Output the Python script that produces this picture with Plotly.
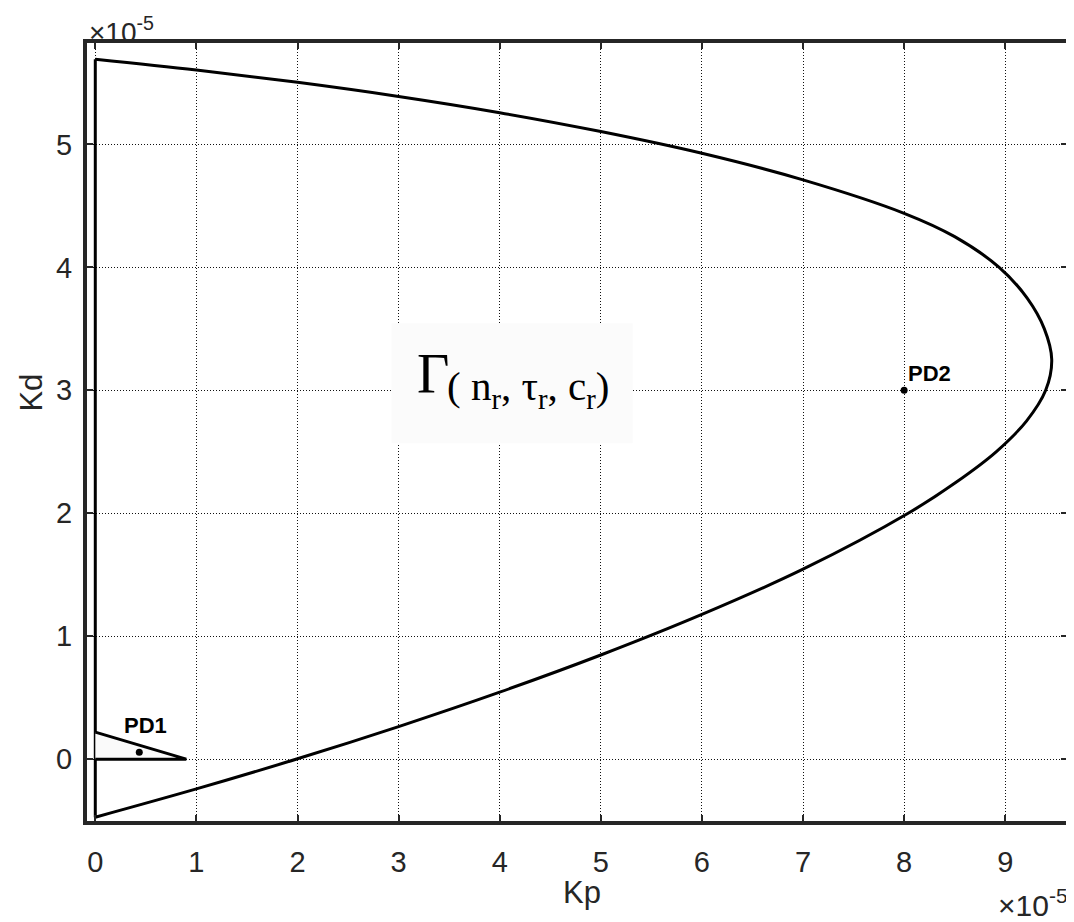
import plotly.graph_objects as go

# All Kp / Kd values are in units of 1e-5 (axis multiplier shown as "×10^-5")
# Boundary of the stabilising region: upper branch, tip, lower branch
kp_boundary = [0, 1, 2, 3, 4, 5, 6, 7, 8, 8.5, 8.94, 9.217, 9.387, 9.46,
               9.40, 9.21, 8.91, 8.51, 8.04, 7, 6, 5, 4, 3, 2, 1, 0]
kd_boundary = [5.693, 5.605, 5.505, 5.390, 5.258, 5.105, 4.928, 4.712, 4.440, 4.250, 4.0, 3.75, 3.5, 3.25,
               3.0, 2.75, 2.5, 2.25, 2.0, 1.545, 1.177, 0.847, 0.545, 0.265, 0.003, -0.242, -0.472]

kp_left_edge = [0, 0]
kd_left_edge = [-0.472, 5.693]

kp_triangle = [0, 0.9, 0]
kd_triangle = [0.22, 0, 0]

point_names = ["PD1", "PD2"]
point_kp = [0.435, 8.0]
point_kd = [0.057, 3.0]

x_ticks = [0, 1, 2, 3, 4, 5, 6, 7, 8, 9]
y_ticks = [0, 1, 2, 3, 4, 5]

INK = "#262626"
FONT = "Liberation Sans, Arial, sans-serif"
SERIF = "Liberation Serif, serif"

fig = go.Figure()

fig.add_trace(go.Scatter(
    x=kp_boundary, y=kd_boundary,
    mode="lines", line=dict(color="black", width=3, shape="spline", smoothing=1.0),
    hoverinfo="skip", showlegend=False))
fig.add_trace(go.Scatter(
    x=kp_left_edge, y=kd_left_edge, mode="lines",
    line=dict(color="black", width=3), showlegend=False, hoverinfo="skip"))
fig.add_trace(go.Scatter(
    x=kp_triangle, y=kd_triangle, mode="lines", fill="toself", fillcolor="#fafafa",
    line=dict(color="black", width=3), showlegend=False, hoverinfo="skip"))
fig.add_trace(go.Scatter(
    x=point_kp, y=point_kd, mode="markers",
    marker=dict(color="black", size=7), showlegend=False))

# point labels
fig.add_annotation(x=point_kp[0], y=point_kd[0], text="<b>" + point_names[0] + "</b>",
                   showarrow=False, xanchor="center", yanchor="middle",
                   xshift=6, yshift=27, font=dict(family=FONT, size=22, color="black"))
fig.add_annotation(x=point_kp[1], y=point_kd[1], text="<b>" + point_names[1] + "</b>",
                   showarrow=False, xanchor="left", yanchor="middle",
                   xshift=2, yshift=17, font=dict(family=FONT, size=22, color="black"))

# Gamma region label with light background box
fig.add_shape(type="rect", xref="x", yref="y", x0=2.93, x1=5.315, y0=2.569, y1=3.545,
              fillcolor="#fbfbfb", line=dict(width=0), layer="above")
fig.add_annotation(x=3.167, y=3.135, text="Γ", showarrow=False, xanchor="left", yanchor="middle",
                   font=dict(family=SERIF, size=56, color="black"))
fig.add_annotation(x=3.46, y=3.01,
                   text="( n<sub>r</sub>, τ<sub>r</sub>, c<sub>r</sub>)",
                   showarrow=False, xanchor="left", yanchor="middle",
                   font=dict(family=SERIF, size=41, color="black"))

# axis labels and exponent multipliers
fig.add_annotation(xref="paper", yref="paper", x=0.505, y=-0.0925, text="Kp", showarrow=False,
                   xanchor="center", yanchor="middle", font=dict(family=FONT, size=31, color=INK))
fig.add_annotation(xref="paper", yref="paper", x=-0.0569, y=0.551, text="Kd", showarrow=False,
                   textangle=-90, xanchor="center", yanchor="middle",
                   font=dict(family=FONT, size=31, color=INK))
fig.add_annotation(xref="paper", yref="paper", x=0.0, y=1.0165, text="×10<sup>-5</sup>",
                   showarrow=False, xanchor="left", yanchor="middle",
                   font=dict(family=FONT, size=28, color=INK))
fig.add_annotation(xref="paper", yref="paper", x=1.0, y=-0.105, text="×10<sup>-5</sup>",
                   showarrow=False, xanchor="right", yanchor="middle", xshift=3,
                   font=dict(family=FONT, size=30, color=INK))

axis_common = dict(
    showgrid=True, gridcolor="#111111", gridwidth=1, griddash="1px,2px",
    zeroline=False, showline=True, linecolor=INK, linewidth=4, mirror="ticks",
    ticks="inside", ticklen=6, tickwidth=1.5, tickcolor=INK,
    tickfont=dict(family=FONT, size=29, color=INK),
)

fig.update_xaxes(range=[-0.082, 9.611], tickvals=x_ticks, ticktext=[str(v) for v in x_ticks],
                 ticklabelstandoff=12, **axis_common)
fig.update_yaxes(range=[-0.503, 5.825], tickvals=y_ticks, ticktext=[str(v) for v in y_ticks],
                 ticklabelstandoff=5, **axis_common)

# the page body adds an 8px margin, so the figure is 8px smaller than the window
fig.update_layout(
    width=1066, height=914,
    margin=dict(l=79, r=3, t=35, b=101),
    paper_bgcolor="white", plot_bgcolor="white",
    showlegend=False,
)

fig.write_html("out.html")
